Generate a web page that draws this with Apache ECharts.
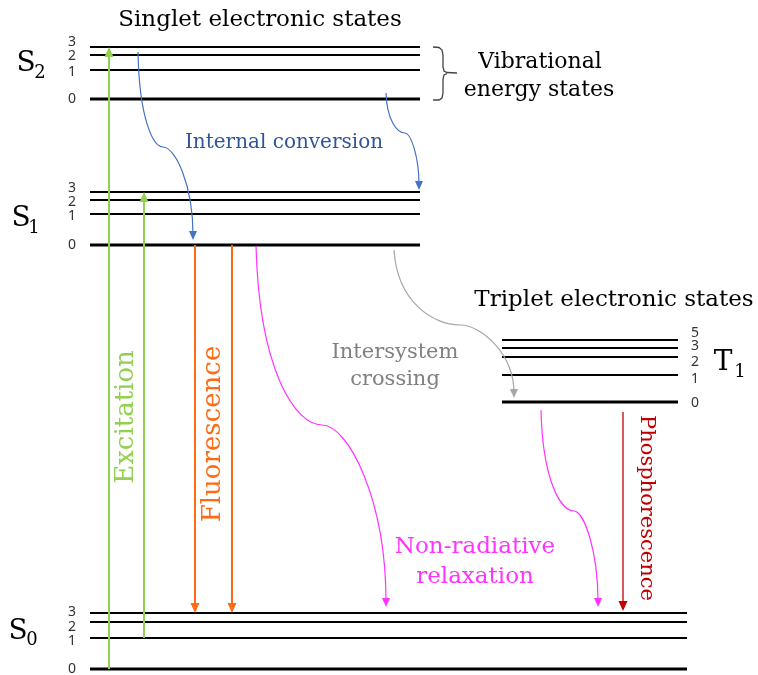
<!DOCTYPE html>
<html>
<head>
<meta charset="utf-8">
<script src="https://cdn.jsdelivr.net/npm/echarts@6/dist/echarts.min.js"></script>
<style>
  html, body { margin: 0; padding: 0; background: #fff; }
  #chart { width: 758px; height: 675px; }
</style>
</head>
<body>
<div id="chart"></div>
<script>
// energy scale: 0 = S0 (v=0), one unit per pixel of the diagram height
const levelStates = ['S0', 'S1', 'S2', 'T1']
const levelX = { S0: [90, 687], S1: [90, 420], S2: [90, 420], T1: [502, 678] }
const levelNums = { S0: [0, 1, 2, 3], S1: [0, 1, 2, 3], S2: [0, 1, 2, 3], T1: [0, 1, 2, 3, 5] }
const levelEnergy = {
  S0: [0, 31, 47, 56],
  S1: [424, 455, 469, 477],
  S2: [570, 599, 614, 622],
  T1: [267, 294, 312, 321, 329]
}

// straight transitions (vertical arrows)
const arrowNames = ['Excitation', 'Excitation', 'Fluorescence', 'Fluorescence', 'Phosphorescence']
const arrowX = [109, 144, 195, 232, 623]
const arrowFrom = [0, 31, 424, 424, 257]
const arrowTo = [622, 477, 56, 56, 58]

// curved transitions: start, bend, end  [x, energy]
const curveNames = ['Internal conversion', 'Internal conversion', 'Intersystem crossing',
  'Non-radiative relaxation', 'Non-radiative relaxation']
const curveStart = [[138, 617], [386, 576], [394, 419], [256, 423], [541, 259]]
const curveMid = [[163, 522], [405, 536], [460, 344], [322, 244], [574, 158]]
const curveEnd = [[193, 429], [419, 479], [514, 271], [386, 62], [598, 62]]

// styles
const colors = {
  'Excitation': '#92D050',
  'Fluorescence': '#FF6A13',
  'Phosphorescence': '#C00000',
  'Internal conversion': '#4472C4',
  'Intersystem crossing': '#A6A6A6',
  'Non-radiative relaxation': '#FF33FF'
}
const arrowWidth = { 'Excitation': 2, 'Fluorescence': 2, 'Phosphorescence': 1.3 }
const labelNudge = { S0: [0, 3, 5, -1], S1: [0, 2, 2, -4], S2: [0, 2, 1, -5], T1: [1, 4, 5, -2, -7] }
const serif = '"DejaVu Serif", serif'

const levelData = []
levelStates.forEach(s => {
  levelNums[s].forEach((v, i) => {
    levelData.push([levelX[s][0], levelX[s][1], levelEnergy[s][i], v, s === 'T1' ? 1 : 0, labelNudge[s][i]])
  })
})
const arrowData = arrowX.map((x, i) => [x, arrowFrom[i], arrowTo[i], i])
const curveData = curveStart.map((p, i) => [p[0], p[1], curveMid[i][0], curveMid[i][1], curveEnd[i][0], curveEnd[i][1], i])

function head (tip, dir, len, w, color) {
  const bx = tip[0] - dir[0] * len
  const by = tip[1] - dir[1] * len
  return {
    type: 'polygon',
    shape: { points: [tip, [bx - dir[1] * w / 2, by + dir[0] * w / 2], [bx + dir[1] * w / 2, by - dir[0] * w / 2]] },
    style: { fill: color }
  }
}

function txt (text, x, y, size, color, rotation, family) {
  const font = size + 'px ' + (family || serif)
  return {
    type: 'text', x: x, y: y, rotation: rotation || 0, silent: true,
    style: { text: text, font: font, fill: color, align: 'center', verticalAlign: 'middle', textAlign: 'center', textVerticalAlign: 'middle' }
  }
}

function bracket (points) {
  return { type: 'polyline', silent: true, shape: { points: points }, style: { stroke: '#444', fill: null, lineWidth: 1.3 } }
}

const chart = echarts.init(document.getElementById('chart'))
const option = {
  backgroundColor: '#fff',
  animation: false,
  grid: { left: 0, right: 0, top: 0, bottom: 0 },
  xAxis: { type: 'value', min: 0, max: 758, show: false },
  yAxis: { type: 'value', min: -6, max: 669, show: false },
  series: [
    {
      // vibrational levels + their numbers
      type: 'custom',
      clip: false,
      data: levelData,
      encode: { x: [0, 1], y: 2 },
      renderItem: (params, api) => {
        const p0 = api.coord([api.value(0), api.value(2)])
        const p1 = api.coord([api.value(1), api.value(2)])
        const v = api.value(3)
        const right = api.value(4) === 1
        return {
          type: 'group',
          children: [
            {
              type: 'line',
              shape: { x1: p0[0], y1: p0[1], x2: p1[0], y2: p1[1] },
              style: { stroke: '#000', lineWidth: v === 0 ? 3 : 2 }
            },
            txt(String(v), right ? p1[0] + 17 : p0[0] - 18, p0[1] + api.value(5), 14, '#333', 0, '"Noto Sans", sans-serif')
          ]
        }
      }
    },
    {
      // radiative transitions
      type: 'custom',
      clip: false,
      data: arrowData,
      encode: { x: 0, y: [1, 2] },
      renderItem: (params, api) => {
        const name = arrowNames[api.value(3)]
        const color = colors[name]
        const a = api.coord([api.value(0), api.value(1)])
        const b = api.coord([api.value(0), api.value(2)])
        const dir = [0, b[1] > a[1] ? 1 : -1]
        return {
          type: 'group',
          children: [
            {
              type: 'line',
              shape: { x1: a[0], y1: a[1], x2: b[0], y2: b[1] - dir[1] * 6 },
              style: { stroke: color, lineWidth: arrowWidth[name] }
            },
            head(b, dir, 10, 9, color)
          ]
        }
      }
    },
    {
      // non-radiative curved transitions
      type: 'custom',
      clip: false,
      data: curveData,
      encode: { x: [0, 2, 4], y: [1, 3, 5] },
      renderItem: (params, api) => {
        const color = colors[curveNames[api.value(6)]]
        const p0 = api.coord([api.value(0), api.value(1)])
        const pm = api.coord([api.value(2), api.value(3)])
        const p1 = api.coord([api.value(4), api.value(5)])
        const c1 = [p0[0] + 0.05 * (pm[0] - p0[0]), p0[1] + 0.7 * (pm[1] - p0[1])]
        const c2 = [pm[0] - 0.4 * (pm[0] - p0[0]), pm[1]]
        const c3 = [pm[0] + 0.4 * (p1[0] - pm[0]), pm[1]]
        const c4 = [p1[0], pm[1] + 0.4 * (p1[1] - pm[1])]
        const end = [p1[0], p1[1] - 5]
        const d = 'M' + p0 + ' C' + c1 + ' ' + c2 + ' ' + pm + ' C' + c3 + ' ' + c4 + ' ' + end
        return {
          type: 'group',
          children: [
            { type: 'path', shape: { pathData: d }, style: { stroke: color, fill: null, lineWidth: 1.2 } },
            head(p1, [0, 1], 9, 8, color)
          ]
        }
      }
    }
  ],
  graphic: [
    txt('Singlet electronic states', 260, 20, 23, '#000'),
    txt('Triplet electronic states', 614, 300, 23, '#000'),
    txt('Vibrational', 540, 62, 22, '#000'),
    txt('energy states', 539, 90, 22, '#000'),
    txt('Internal conversion', 284, 143, 20, '#2F5597'),
    txt('Intersystem', 395, 353, 21, '#808080'),
    txt('crossing', 395, 380, 21, '#808080'),
    txt('Non-radiative', 475, 547, 23, colors['Non-radiative relaxation']),
    txt('relaxation', 475, 577, 23, colors['Non-radiative relaxation']),
    txt('Excitation', 126, 417, 26, colors['Excitation'], Math.PI / 2),
    txt('Fluorescence', 213, 434, 26, colors['Fluorescence'], Math.PI / 2),
    txt('Phosphorescence', 646, 508, 21, colors['Phosphorescence'], -Math.PI / 2),
    txt('S', 26, 64, 28, '#000'), txt('2', 40, 73, 18, '#000'),
    txt('S', 21, 219, 28, '#000'), txt('1', 34, 228, 18, '#000'),
    txt('S', 18, 632, 28, '#000'), txt('0', 32, 640, 18, '#000'),
    txt('T', 723, 363, 28, '#000'), txt('1', 740, 372, 18, '#000'),
    bracket([[433, 47], [439, 47.5], [442, 50], [443, 55], [443, 67], [444, 71], [447, 72.5], [457, 73]]),
    bracket([[447, 73.5], [444, 75], [443, 79], [443, 93], [442, 98], [439, 100], [433, 100]])
  ]
}
chart.setOption(option)
window.addEventListener('resize', () => {
  chart.resize()
})
</script>
</body>
</html>
